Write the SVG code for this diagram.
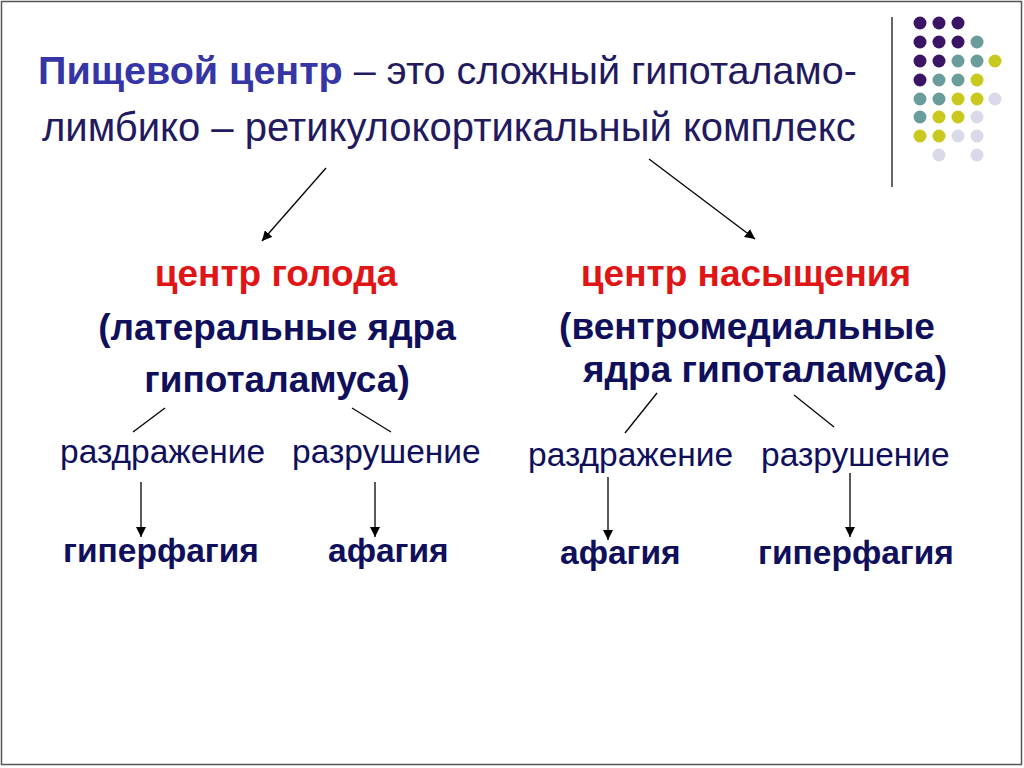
<svg xmlns="http://www.w3.org/2000/svg" width="1024" height="768" viewBox="0 0 1024 768">
<defs>
<marker id="ah" viewBox="0 0 10 10" refX="10" refY="5" markerWidth="10" markerHeight="10" markerUnits="userSpaceOnUse" orient="auto">
<path d="M0,0 L10,5 L0,10 z" fill="#000"/>
</marker>
<style>
text{font-family:"Liberation Sans",Arial,sans-serif}
.t1{font-size:39.5px;fill:#22195f}
.tb{font-weight:bold;fill:#3535a5}
.red{font-size:37px;font-weight:bold;fill:#e01515}
.nb{font-size:37px;font-weight:bold;fill:#0f0f5c}
.nr{font-size:33.5px;fill:#0f0f5c}
.res{font-size:33.5px;font-weight:bold;fill:#0f0f5c}
.conn line{stroke:#000;stroke-width:1.3}
.arr{marker-end:url(#ah)}
.pu{fill:#3b1466}.te{fill:#6b9c9c}.ye{fill:#c8c81e}.la{fill:#d9d9ea}
</style>
</defs>
<rect x="0" y="0" width="1024" height="768" fill="#fff"/>
<rect x="1.5" y="1.5" width="1020" height="763" fill="none" stroke="#555" stroke-width="1.5"/>
<g id="decor">
<line x1="892" y1="17" x2="892" y2="187" stroke="#333" stroke-width="1.5"/>
<g id="dots">
<circle class="pu" cx="920" cy="23" r="6.5"/><circle class="pu" cx="939" cy="23" r="6.5"/><circle class="pu" cx="958" cy="23" r="6.5"/>
<circle class="pu" cx="920" cy="42" r="6.5"/><circle class="pu" cx="939" cy="42" r="6.5"/><circle class="pu" cx="958" cy="42" r="6.5"/><circle class="te" cx="977" cy="42" r="6.5"/>
<circle class="pu" cx="920" cy="61" r="6.5"/><circle class="pu" cx="939" cy="61" r="6.5"/><circle class="te" cx="958" cy="61" r="6.5"/><circle class="te" cx="977" cy="61" r="6.5"/><circle class="ye" cx="995" cy="61" r="6.5"/>
<circle class="pu" cx="920" cy="80" r="6.5"/><circle class="te" cx="939" cy="80" r="6.5"/><circle class="te" cx="958" cy="80" r="6.5"/><circle class="ye" cx="977" cy="80" r="6.5"/>
<circle class="te" cx="920" cy="99" r="6.5"/><circle class="te" cx="939" cy="99" r="6.5"/><circle class="ye" cx="958" cy="99" r="6.5"/><circle class="ye" cx="977" cy="99" r="6.5"/><circle class="la" cx="995" cy="99" r="6.5"/>
<circle class="te" cx="920" cy="117" r="6.5"/><circle class="ye" cx="939" cy="117" r="6.5"/><circle class="ye" cx="958" cy="117" r="6.5"/><circle class="la" cx="977" cy="117" r="6.5"/>
<circle class="ye" cx="920" cy="136" r="6.5"/><circle class="ye" cx="939" cy="136" r="6.5"/><circle class="la" cx="958" cy="136" r="6.5"/><circle class="la" cx="977" cy="136" r="6.5"/>
<circle class="la" cx="939" cy="155" r="6.5"/><circle class="la" cx="977" cy="155" r="6.5"/>
</g>
</g>
<g id="title">
<text class="t1" x="38" y="84"><tspan class="tb">Пищевой центр</tspan> – это сложный гипоталамо-</text>
<text class="t1" x="42" y="141" style="font-size:40px">лимбико – ретикулокортикальный комплекс</text>
</g>
<g id="hunger">
<text class="red" x="276" y="286" text-anchor="middle">центр голода</text>
<text class="nb" x="277" y="340" text-anchor="middle">(латеральные ядра</text>
<text class="nb" x="277" y="392" text-anchor="middle">гипоталамуса)</text>
</g>
<g id="hunger-irr"><text class="nr" x="60" y="463">раздражение</text></g>
<g id="hunger-destr"><text class="nr" x="292" y="463">разрушение</text></g>
<g id="hunger-res1"><text class="res" x="63" y="562">гиперфагия</text></g>
<g id="hunger-res2"><text class="res" x="328" y="562">афагия</text></g>
<g id="satiety">
<text class="red" x="746" y="286" text-anchor="middle">центр насыщения</text>
<text class="nb" x="747" y="339" text-anchor="middle">(вентромедиальные</text>
<text class="nb" x="765" y="382" text-anchor="middle">ядра гипоталамуса)</text>
</g>
<g id="satiety-irr"><text class="nr" x="528" y="466">раздражение</text></g>
<g id="satiety-destr"><text class="nr" x="761" y="466">разрушение</text></g>
<g id="satiety-res1"><text class="res" x="560" y="564">афагия</text></g>
<g id="satiety-res2"><text class="res" x="758" y="564">гиперфагия</text></g>
<g id="connectors" class="conn">
<line class="arr" x1="326" y1="168" x2="262" y2="241"/>
<line class="arr" x1="649" y1="159" x2="755" y2="239"/>
<line x1="165" y1="408" x2="133" y2="432"/>
<line x1="352" y1="408" x2="391" y2="432"/>
<line x1="657" y1="393" x2="625" y2="433"/>
<line x1="794" y1="395" x2="834" y2="427"/>
<line class="arr" x1="141" y1="482" x2="141" y2="537"/>
<line class="arr" x1="375" y1="482" x2="375" y2="537"/>
<line class="arr" x1="608" y1="477" x2="608" y2="540"/>
<line class="arr" x1="850" y1="473" x2="850" y2="537"/>
</g>
</svg>
